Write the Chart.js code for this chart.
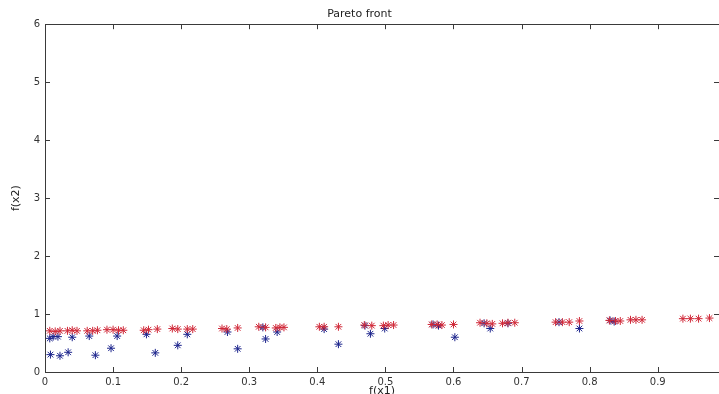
<!DOCTYPE html>
<html>
<head>
<meta charset="utf-8">
<script src="https://cdn.jsdelivr.net/npm/chart.js@4/dist/chart.umd.min.js"></script>
<style>
html,body{margin:0;padding:0;background:#fff;overflow:hidden;}
canvas{display:block;}
</style>
</head>
<body>
<canvas id="c" width="719" height="394"></canvas>
<script>
// ---- data ----
const chartTitle = 'Pareto front';
const xAxisTitle = 'f(x1)';
const yAxisTitle = 'f(x2)';

const xTickValues = [0, 0.1, 0.2, 0.3, 0.4, 0.5, 0.6, 0.7, 0.8, 0.9];
const xTickLabels = ['0', '0.1', '0.2', '0.3', '0.4', '0.5', '0.6', '0.7', '0.8', '0.9'];
const yTickValues = [0, 1, 2, 3, 4, 5, 6];
const yTickLabels = ['0', '1', '2', '3', '4', '5', '6'];

// red series (upper front)
const redX = [0.007, 0.015, 0.022, 0.033, 0.040, 0.047, 0.062, 0.070, 0.077, 0.091, 0.100, 0.108, 0.115,
  0.145, 0.152, 0.165, 0.187, 0.195, 0.209, 0.217, 0.260, 0.267, 0.283, 0.314, 0.324, 0.339, 0.345, 0.351,
  0.403, 0.410, 0.431, 0.469, 0.480, 0.497, 0.504, 0.512, 0.568, 0.576, 0.583, 0.600,
  0.639, 0.649, 0.657, 0.672, 0.680, 0.690, 0.750, 0.760, 0.770, 0.785,
  0.829, 0.838, 0.845, 0.860, 0.868, 0.877, 0.937, 0.948, 0.960, 0.976];
const redY = [0.71, 0.70, 0.71, 0.71, 0.72, 0.71, 0.71, 0.71, 0.72, 0.73, 0.73, 0.72, 0.72,
  0.72, 0.73, 0.74, 0.75, 0.74, 0.74, 0.74, 0.75, 0.74, 0.76, 0.78, 0.77, 0.76, 0.77, 0.77,
  0.78, 0.78, 0.78, 0.81, 0.80, 0.80, 0.81, 0.81, 0.82, 0.82, 0.81, 0.82,
  0.85, 0.84, 0.83, 0.84, 0.85, 0.85, 0.86, 0.86, 0.86, 0.88,
  0.89, 0.88, 0.88, 0.90, 0.90, 0.90, 0.92, 0.92, 0.92, 0.93];

// blue series
const blueX = [0.007, 0.012, 0.019, 0.040, 0.065, 0.106, 0.149, 0.209, 0.268, 0.341, 0.410, 0.478, 0.499,
  0.578, 0.654, 0.785, 0.836,
  0.008, 0.022, 0.034, 0.074, 0.097, 0.162, 0.195, 0.283, 0.324, 0.431, 0.602,
  0.320, 0.470, 0.570, 0.645, 0.680, 0.755, 0.830];
const blueY = [0.58, 0.61, 0.61, 0.60, 0.62, 0.62, 0.65, 0.65, 0.69, 0.69, 0.74, 0.66, 0.75,
  0.80, 0.75, 0.75, 0.87,
  0.30, 0.28, 0.34, 0.29, 0.41, 0.33, 0.46, 0.40, 0.57, 0.48, 0.60,
  0.77, 0.80, 0.82, 0.84, 0.84, 0.86, 0.89];

const FONT = 'DejaVu Sans';
const AXIS_COLOR = '#3a3a3a';

const toPoints = (xs, ys) => xs.map((x, i) => ({x: x, y: ys[i]}));

const framePlugin = {
  id: 'frame',
  afterDraw(chart) {
    const {ctx, chartArea: a, scales} = chart;
    const xs = scales.x, ys = scales.y;
    const L = 5;
    ctx.save();
    ctx.strokeStyle = AXIS_COLOR;
    ctx.lineWidth = 1;
    ctx.beginPath();
    ctx.moveTo(Math.round(a.left) + 0.5, a.top);
    ctx.lineTo(Math.round(a.left) + 0.5, a.bottom);
    ctx.moveTo(a.left, Math.round(a.bottom) + 0.5);
    ctx.lineTo(a.right, Math.round(a.bottom) + 0.5);
    ctx.moveTo(a.left, Math.round(a.top) + 0.5);
    ctx.lineTo(a.right, Math.round(a.top) + 0.5);
    xTickValues.forEach(v => {
      const p = Math.round(xs.getPixelForValue(v)) + 0.5;
      ctx.moveTo(p, a.bottom); ctx.lineTo(p, a.bottom - L);
      ctx.moveTo(p, a.top); ctx.lineTo(p, a.top + L);
    });
    yTickValues.forEach(v => {
      const p = Math.round(ys.getPixelForValue(v)) + 0.5;
      ctx.moveTo(a.left, p); ctx.lineTo(a.left + L, p);
      ctx.moveTo(a.right, p); ctx.lineTo(a.right - L, p);
    });
    ctx.stroke();
    ctx.restore();
  }
};

new Chart(document.getElementById('c'), {
  type: 'scatter',
  data: {
    datasets: [
      {
        label: 'red',
        data: toPoints(redX, redY),
        pointStyle: 'star',
        pointRadius: 4,
        borderWidth: 1,
        borderColor: '#d02838',
        backgroundColor: '#d02838'
      },
      {
        label: 'blue',
        data: toPoints(blueX, blueY),
        pointStyle: 'star',
        pointRadius: 4,
        borderWidth: 1,
        borderColor: '#1c248c',
        backgroundColor: '#1c248c'
      }
    ]
  },
  options: {
    responsive: false,
    animation: false,
    devicePixelRatio: 1,
    layout: {autoPadding: false, padding: {top: 0, left: 0, right: 0, bottom: 0}},
    plugins: {
      legend: {display: false},
      tooltip: {enabled: false},
      title: {
        display: true,
        text: chartTitle,
        color: '#222',
        font: {family: FONT, size: 11, weight: 'normal'},
        padding: {top: 8, bottom: 3}
      }
    },
    scales: {
      x: {
        type: 'linear',
        min: 0,
        max: 0.99,
        afterBuildTicks: s => { s.ticks = xTickValues.map(v => ({value: v})); },
        afterFit: s => { s.height = 22; },
        grid: {display: false, drawTicks: false},
        border: {display: false},
        ticks: {
          color: '#333',
          font: {family: FONT, size: 10},
          padding: 4,
          maxRotation: 0,
          autoSkip: false,
          callback: (v, i) => xTickLabels[i]
        },
        title: {
          display: true,
          text: xAxisTitle,
          color: '#222',
          font: {family: FONT, size: 11},
          padding: {top: 0, bottom: -4}
        }
      },
      y: {
        type: 'linear',
        min: 0,
        max: 6,
        afterBuildTicks: s => { s.ticks = yTickValues.map(v => ({value: v})); },
        afterFit: s => { s.width = 45; },
        grid: {display: false, drawTicks: false},
        border: {display: false},
        ticks: {
          color: '#333',
          font: {family: FONT, size: 10},
          padding: 5,
          autoSkip: false,
          callback: (v, i) => yTickLabels[i]
        },
        title: {
          display: true,
          text: yAxisTitle,
          color: '#222',
          font: {family: FONT, size: 11},
          padding: {top: 10, bottom: 0}
        }
      }
    }
  },
  plugins: [framePlugin]
});
</script>
</body>
</html>
